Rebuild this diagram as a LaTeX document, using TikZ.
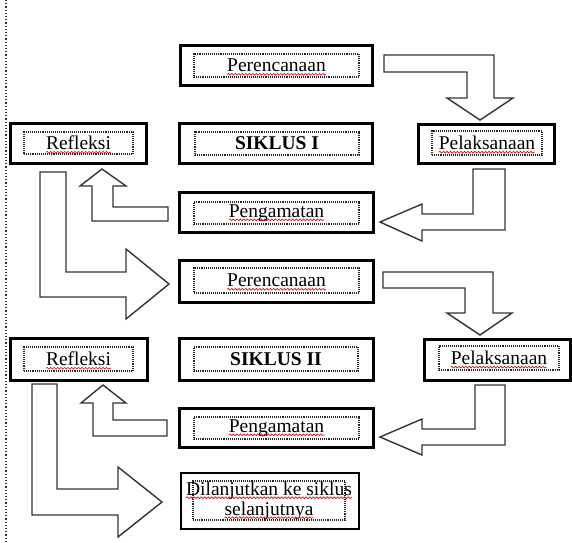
\documentclass[tikz,border=0pt]{standalone}
\usepackage{fontspec}
\setmainfont{Liberation Serif}
\usetikzlibrary{decorations.pathmorphing}
\begin{document}
\begin{tikzpicture}[x=1pt,y=-1pt,
  outerbox/.style={draw=black,line width=3pt,minimum width=#1,inner sep=0pt,outer sep=0pt},
  dotbox/.style={draw=black!85,densely dotted,line width=1.1pt,inner sep=0pt,outer sep=0pt},
  txt/.style={inner sep=0pt,outer sep=0pt,font=\fontsize{19.5}{23}\selectfont},
  blockarrow/.style={draw=black!80,line width=1.4pt,fill=white,line join=miter},
  squig/.style={draw=red!85!black,line width=0.6pt,decorate,decoration={snake,segment length=3.5pt,amplitude=0.9pt}}
]
\useasboundingbox (0,0) rectangle (572,542);
\draw[black!80,dotted,line width=1.2pt] (6,0) -- (6,542);

% ---- block arrows ----
\draw[blockarrow] (384,55) -- (494,55) -- (494,98) -- (513,98) -- (480,120) -- (447,98) -- (467,98) -- (467,72) -- (384,72) -- cycle;
\draw[blockarrow] (473,169) -- (505,169) -- (505,230) -- (422,230) -- (422,241) -- (380,222) -- (422,204) -- (422,214) -- (473,214) -- cycle;
\draw[blockarrow] (168,207) -- (168,221) -- (92,221) -- (92,186) -- (80,186) -- (102,169) -- (126,186) -- (113,186) -- (113,207) -- cycle;
\draw[blockarrow] (40,172) -- (66,172) -- (66,272) -- (126,272) -- (126,249) -- (169,284) -- (126,319) -- (126,297) -- (40,297) -- cycle;
\draw[blockarrow] (383,272) -- (493,272) -- (493,313) -- (512,313) -- (480,335) -- (447,313) -- (465,313) -- (465,288) -- (383,288) -- cycle;
\draw[blockarrow] (475,385) -- (505,385) -- (505,445) -- (422,445) -- (422,455) -- (380,437) -- (422,419) -- (422,429) -- (475,429) -- cycle;
\draw[blockarrow] (167,420) -- (167,436) -- (93,436) -- (93,403) -- (81,403) -- (103,385) -- (126,403) -- (113,403) -- (113,420) -- cycle;
\draw[blockarrow] (32,384) -- (57,384) -- (57,489) -- (118,489) -- (118,467) -- (162,502) -- (118,537) -- (118,515) -- (32,515) -- cycle;

% ---- boxes ----
\node[outerbox=192,minimum height=40] (per1) at (276,65) {};
\node[dotbox,minimum width=165,minimum height=23] (per1d) at (276.5,65.5) {};
\node[txt] (per1t) at (per1d) {Perencanaan};

\node[outerbox=136,minimum height=40] (ref1) at (78,143) {};
\node[dotbox,minimum width=109,minimum height=22] (ref1d) at (78.5,143) {};
\node[txt] (ref1t) at (ref1d) {Refleksi};

\node[outerbox=193,minimum height=40] (sik1) at (275.5,143) {};
\node[dotbox,minimum width=164,minimum height=23] (sik1d) at (277,143.5) {};
\node[txt,font=\fontsize{19.5}{23}\selectfont\bfseries] (sik1t) at (sik1d) {SIKLUS I};

\node[outerbox=136,minimum height=39] (pel1) at (486,143.5) {};
\node[dotbox,minimum width=110,minimum height=24] (pel1d) at (487,143) {};
\node[txt] (pel1t) at (pel1d) {Pelaksanaan};

\node[outerbox=194,minimum height=40] (peng1) at (276,212) {};
\node[dotbox,minimum width=165,minimum height=22] (peng1d) at (276.5,213) {};
\node[txt] (peng1t) at (peng1d) {Pengamatan};

\node[outerbox=194,minimum height=42] (per2) at (276,281) {};
\node[dotbox,minimum width=165,minimum height=25] (per2d) at (276.5,280.5) {};
\node[txt] (per2t) at (per2d) {Perencanaan};

\node[outerbox=137,minimum height=42] (ref2) at (78.5,359) {};
\node[dotbox,minimum width=109,minimum height=24] (ref2d) at (78.5,359) {};
\node[txt] (ref2t) at (ref2d) {Refleksi};

\node[outerbox=194,minimum height=42] (sik2) at (276,359) {};
\node[dotbox,minimum width=164,minimum height=24] (sik2d) at (276,359) {};
\node[txt,font=\fontsize{19.5}{23}\selectfont\bfseries] (sik2t) at (sik2d) {SIKLUS II};

\node[outerbox=146,minimum height=41] (pel2) at (497,359.5) {};
\node[dotbox,minimum width=120,minimum height=24] (pel2d) at (499,358) {};
\node[txt] (pel2t) at (pel2d) {Pelaksanaan};

\node[outerbox=194,minimum height=39] (peng2) at (276,427.5) {};
\node[dotbox,minimum width=165,minimum height=22] (peng2d) at (276.5,428) {};
\node[txt] (peng2t) at (peng2d) {Pengamatan};

\node[outerbox=178,minimum height=56,line width=2pt] (dil) at (270,501) {};
\node[dotbox,minimum width=152,minimum height=39] (dild) at (269,500.5) {};
\node[txt] (dilt1) at (269,490.5) {Dilanjutkan ke siklus};
\node[txt] (dilt2) at (269,510.5) {selanjutnya};

% ---- spell-check squiggles ----
\foreach \t in {per1t,ref1t,pel1t,peng1t,per2t,ref2t,pel2t,peng2t,dilt1,dilt2}{
  \draw[squig] ([yshift=-2.5pt]\t.base west) -- ([yshift=-2.5pt]\t.base east);
}
\end{tikzpicture}
\end{document}
